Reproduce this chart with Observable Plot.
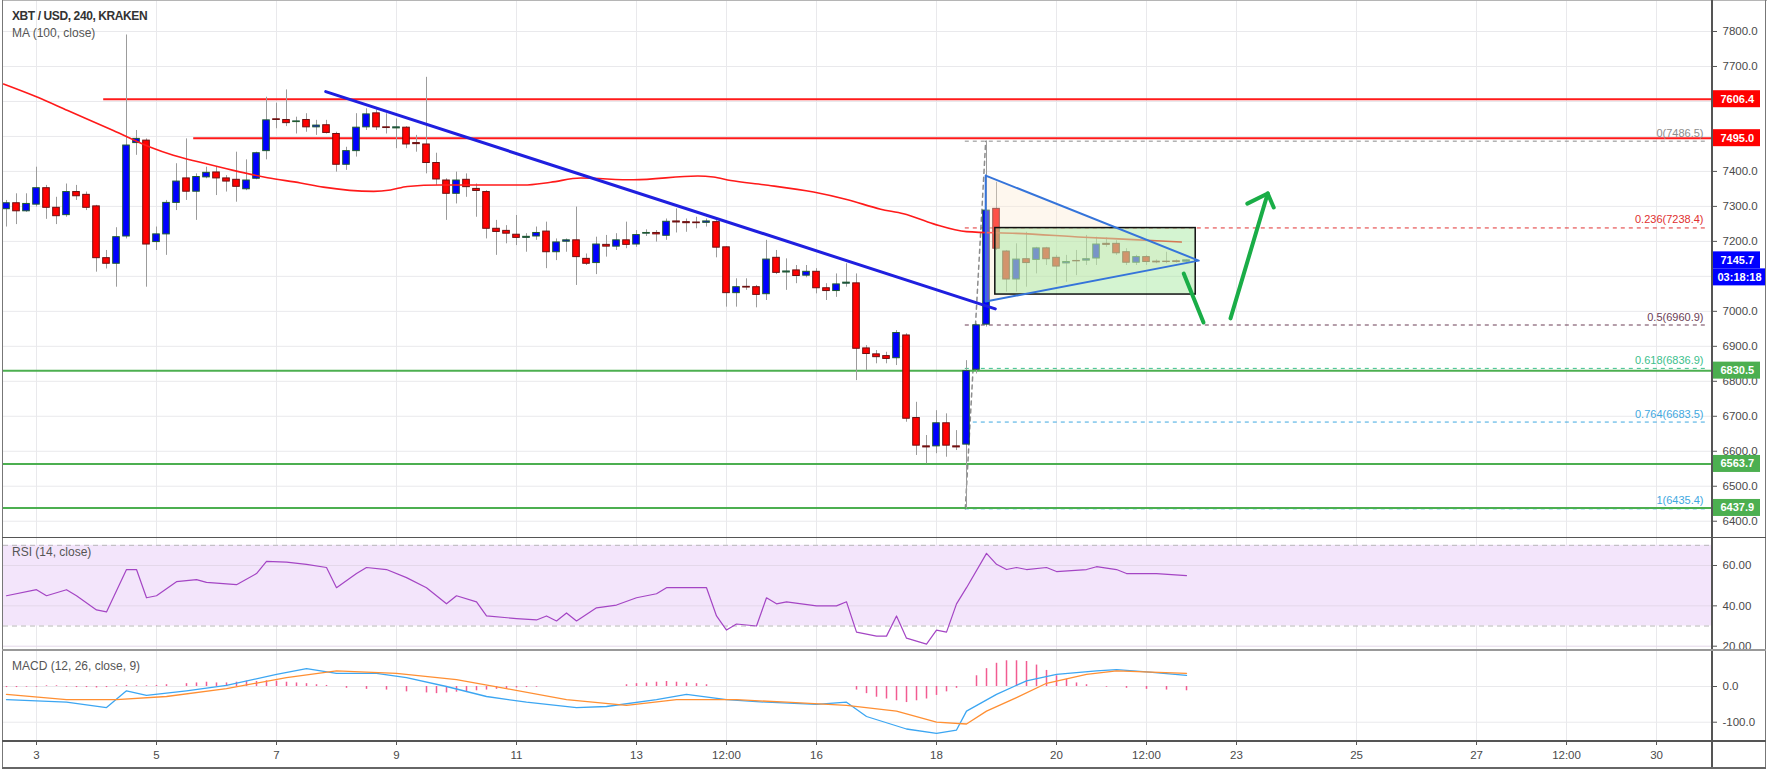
<!DOCTYPE html>
<html><head><meta charset="utf-8">
<script src="https://cdn.jsdelivr.net/npm/d3@7"></script>
<script src="https://cdn.jsdelivr.net/npm/@observablehq/plot@0.6"></script>
<style>
body{margin:0;background:#fff;}
#wrap{position:relative;width:1769px;height:771px;overflow:hidden;background:#fff;font-family:"Liberation Sans",Arial,sans-serif;}
#wrap svg{position:absolute;left:0;}
.ln{position:absolute;}
.lbl{position:absolute;font-size:12px;color:#333;white-space:nowrap;}
</style></head><body><div id="wrap"></div><script>
// ---------- data ----------
const start = 2.5, step = 1/6;           // first candle (day), 4h candles
const opens  = [7292,7309,7286,7305,7352,7296,7275,7341,7333,7300,7152,7136,7214,7481,7488,7198,7220,7310,7380,7342,7383,7397,7380,7376,7349,7379,7458,7549,7547,7541,7547,7526,7532,7507,7419,7458,7526,7566,7526,7523,7525,7481,7477,7424,7374,7336,7376,7350,7341,7236,7230,7219,7210,7214,7228,7169,7199,7203,7150,7138,7190,7185,7203,7191,7222,7224,7216,7257,7255,7254,7253,7255,7183,7052,7070,7069,7049,7153,7111,7117,7102,7113,7066,7058,7079,7080,6894,6877,6872,6866,6931,6695,6614,6614,6680,6614,6619,6833,6962,7293,7171,7091,7149,7147,7180,7153,7137,7144,7145,7151,7193,7193,7169,7139,7155,7142,7142,7143,7142];
const highs  = [7317,7336,7336,7412,7360,7326,7364,7360,7341,7303,7174,7239,7790,7517,7493,7241,7317,7422,7493,7393,7412,7412,7388,7455,7433,7455,7612,7595,7633,7555,7565,7546,7546,7512,7469,7565,7579,7576,7565,7550,7528,7503,7669,7452,7379,7398,7393,7364,7345,7260,7245,7274,7222,7241,7255,7207,7207,7298,7164,7212,7217,7222,7255,7231,7233,7231,7264,7293,7264,7269,7264,7260,7185,7093,7093,7074,7203,7174,7150,7131,7131,7122,7079,7107,7136,7107,6902,6888,6883,6945,6936,6740,6645,6716,6707,6659,6859,6964,7487,7369,7174,7193,7226,7183,7183,7160,7160,7174,7217,7212,7210,7202,7179,7160,7160,7147,7169,7147,7147];
const lows   = [7241,7248,7283,7298,7263,7248,7269,7317,7288,7112,7121,7069,7207,7446,7069,7174,7160,7288,7317,7260,7379,7331,7341,7312,7345,7376,7433,7522,7528,7507,7512,7503,7507,7398,7403,7441,7517,7517,7507,7465,7465,7455,7393,7360,7260,7307,7326,7269,7207,7160,7193,7188,7169,7203,7122,7145,7169,7074,7131,7105,7155,7174,7179,7183,7214,7198,7203,7224,7226,7236,7241,7153,7012,7012,7060,7010,7031,7105,7060,7079,7096,7050,7031,7040,7069,6802,6831,6850,6850,6845,6683,6588,6564,6593,6583,6602,6435,6821,6955,7174,7055,7055,7069,7107,7131,7078,7083,7102,7131,7131,7183,7160,7131,7131,7131,7136,7136,7138,7140];
const closes = [7309,7286,7307,7352,7296,7272,7341,7329,7296,7152,7136,7212,7474,7493,7191,7220,7310,7371,7342,7384,7396,7380,7371,7356,7374,7452,7546,7547,7538,7543,7526,7531,7510,7419,7458,7525,7563,7526,7524,7526,7477,7478,7424,7377,7336,7374,7355,7344,7236,7227,7222,7210,7213,7224,7169,7197,7203,7155,7136,7191,7185,7203,7190,7218,7224,7220,7256,7254,7252,7252,7257,7182,7052,7069,7068,7047,7148,7110,7114,7101,7113,7066,7058,7077,7082,6893,6878,6869,6864,6938,6693,6616,6611,6680,6616,6611,6829,6960,7288,7179,7091,7148,7138,7180,7149,7128,7141,7143,7149,7191,7190,7166,7139,7155,7141,7140,7141,7141,7145.7];

// moving average MA(100) samples: day, value
const maDay = [2.45,3.02,3.52,4.28,4.90,5.28,5.73,6.28,6.85,7.40,7.78,8.62,8.90,9.18,9.73,11.12,11.57,12.07,12.95,14.02,14.28,14.57,15.12,15.95,16.52,17.07,17.45,17.95,18.50,19.33,20.45,21.28,22.08];
const maVal = [7650,7612,7574,7517,7469,7446,7426,7403,7382,7367,7355,7343,7347,7357,7361,7361,7369,7381,7376,7387,7384,7374,7362,7341,7319,7292,7279,7250,7228,7223,7212,7205,7198];

// RSI(14) samples: candle index, value
const rsiIdx = [0,3,4,6,7,9,10,12,13,14,15,17,19,20,23,25,26,28,30,32,33,35,36,38,40,42,44,45,47,48,51,53,54,55,56,57,59,61,63,65,66,68,70,71,72,73,75,76,77,78,81,83,84,85,87,88,89,90,91,92,93,94,95,96,98,99,100,101,102,104,105,108,109,111,112,115,118];
const rsiVal = [45,48,45,48,45,38,37,58,58,44,45,52,53,51.6,50.5,56,62,61.7,60.6,59,49,56,59,58,54,49,41,45,42,35,33.7,33,35,32.5,36.5,32.5,39,40.4,44,46,49,49,49,35,28,31,30,44,41,42,40,40,42,27,25,25,35,24,22.5,21,28,27,41,49,66,60.6,58,59,58,59,57,58,59.4,58,56,56,55];

// MACD(12,26,9) samples: candle index, value
const macdIdx = [0,6,10,12,14,18,22,27,30,33,37,40,44,48,52,57,60,65,68,72,76,81,84,86,90,93,95,96,99,102,105,109,111,114,118];
const macdVal = [-37,-44,-59,-12,-25,-12,3,34,50,37,37,25,0,-28,-44,-59,-56,-37,-22,-37,-44,-50,-44,-84,-119,-131,-122,-69,-22,16,34,44,47,41,31];
const sigIdx  = [0,6,11,16,22,28,33,39,45,50,56,62,67,73,78,84,89,93,96,98,101,104,108,111,118];
const sigVal  = [-22,-37,-37,-28,-6,25,44,37,19,-6,-37,-53,-37,-37,-44,-53,-69,-100,-105,-69,-31,9,34,44,37];
const histIdx = [0,1,2,3,4,5,6,7,8,9,10,11,12,13,14,15,16,18,19,20,21,22,23,24,25,26,27,28,29,30,31,32,34,36,38,40,42,43,44,45,46,47,48,49,50,51,52,53,62,63,64,65,66,67,68,69,70,85,86,87,88,89,90,91,92,93,94,95,97,98,99,100,101,102,103,104,105,106,107,108,110,112,114,116,118];
const histVal = [-3,-3,-2,-2,2,2,-2,-3,-3,-4,-3,2,3,2,2,3,5,8,10,12,10,10,12,15,14,16,15,12,10,8,5,3,-5,-8,-10,-15,-18,-20,-18,-16,-14,-12,-10,-8,-6,-4,-3,-2,5,8,10,12,14,12,10,8,5,-10,-20,-30,-35,-40,-45,-40,-35,-25,-15,-5,30,50,65,72,72,70,60,45,30,20,10,5,-2,-5,-8,-10,-12];

// horizontal levels
const levelVal  = [7606.4, 7495.0, 6830.5, 6563.7, 6437.9];
const levelFrom = [4.12, 5.62, 2.45, 2.45, 2.45];
const levelCol  = ["#ff1a1a","#ff1a1a","#4caf50","#4caf50","#4caf50"];
// fibonacci retracement
const fibRatio = ["0","0.236","0.5","0.618","0.764","1"];
const fibVal   = [7486.5, 7238.4, 6960.9, 6836.9, 6683.5, 6435.4];
const fibCol   = ["#8c8c8c","#e03030","#6b3d55","#3cc08c","#3fa8e0","#3fa8e0"];
const fibFrom  = 18.48;
// drawings
const trendDay = [7.82, 18.98], trendVal = [7628, 7007];
const triDay = [18.82, 22.37, 18.82, 18.82], triVal = [7388, 7145, 7028, 7388];
const boxDay = [18.98, 22.32], boxVal = [7048, 7238];
const arrowA = {day:[22.12, 22.45], val:[7108, 6968]};
const arrowB = {day:[22.90, 23.52], val:[6980, 7337]};
const arrowHead = {day:[23.18, 23.52, 23.62], val:[7308, 7337, 7297]};
// price tags on the axis
const tagVal = [7606.4, 7495.0, 7145.7, 6830.5, 6563.7, 6437.9];
const tagCol = ["#ff0000","#ff0000","#0000ff","#4caf50","#4caf50","#4caf50"];
const countdown = "03:18:18";
// axes
const dayTicks  = [3,5,7,9,11,13,14.5,16,18,20,21.5,23,25,27,28.5,30];
const dayLabels = ["3","5","7","9","11","13","12:00","16","18","20","12:00","23","25","27","12:00","30"];
const priceTicks = [6400,6500,6600,6700,6800,6900,7000,7100,7200,7300,7400,7500,7600,7700,7800];
const priceLabelTicks = [6400,6500,6600,6700,6800,6900,7000,7200,7300,7400,7500,7600,7700,7800]; // 7100 hidden under the countdown tag
const rsiTicks = [20,40,60];
const macdTicks = [0,-100];

// ---------- build ----------
const X0 = 2.45, X1 = 30.933;
const tOf = i => start + i*step;
const candles = opens.map((o,i)=>({t:tOf(i), o, h:highs[i], l:lows[i], c:closes[i]}));
const pairs = (xs, ys) => xs.map((x,i)=>({x, y:ys[i]}));
const idxPairs = (xs, ys) => xs.map((x,i)=>({x:tOf(x), y:ys[i]}));
const PPY = 538/(7888.6-6350.6); // px per price unit in price pane
const PPD = 60; // px per day

const font = '"Liberation Sans", Arial, sans-serif';
const common = {width:1769, marginLeft:3, marginRight:57, x:{domain:[X0,X1], axis:null},
  color:{type:"identity"},
  style:{fontFamily:font, fontSize:"11.5px", color:"#4a4a4a", background:"transparent", overflow:"visible"}};
const grid = "#e9e9ec";
const wrap = document.getElementById("wrap");

const levels = levelVal.map((v,i)=>({v, from:levelFrom[i], to:X1, c:levelCol[i]}));
const fibs = fibVal.map((v,i)=>({v, from:fibFrom, to:X1-0.06, c:fibCol[i], label:`${fibRatio[i]}(${v.toFixed(1)})`}));
const tags = tagVal.map((v,i)=>({v, c:tagCol[i], x1:X1, x2:X1+48/PPD, y1:v-8.5/PPY, y2:v+8.5/PPY}));
const cd = [{x1:X1, x2:X1+54/PPD, y1:7145.7-8.5/PPY-17/PPY, y2:7145.7-8.5/PPY, y:7145.7-17.5/PPY, text:countdown}];
const bw = 3.3/PPD;
const yAx = (ticks, fmt) => Plot.axisY(ticks, {anchor:"right", label:null, tickSize:4, tickPadding:6, tickFormat:fmt, fill:"#4a4a4a", stroke:"#555"});

const price = Plot.plot({...common, height:538, marginTop:0, marginBottom:0,
  y:{domain:[6350.6, 7888.6], axis:null},
  marks:[
    Plot.gridX(dayTicks, {stroke:grid, strokeOpacity:1}),
    Plot.gridY(priceTicks, {stroke:grid, strokeOpacity:1}),
    yAx(priceLabelTicks, d=>d.toFixed(1)),
    Plot.ruleY(fibs, {y:"v", x1:"from", x2:"to", stroke:"c", strokeWidth:1, strokeDasharray:"4,4"}),
    Plot.line(pairs([18.48,18.82],[6435.4,7486.5]), {x:"x", y:"y", stroke:"#8c8c8c", strokeDasharray:"4,4"}),
    Plot.ruleY(levels, {y:"v", x1:"from", x2:"to", stroke:"c", strokeWidth:2}),
    Plot.ruleX(candles, {x:"t", y1:"l", y2:"h", stroke:"#9c9c9c", strokeWidth:1}),
    Plot.rect(candles, {x1:d=>d.t-bw, x2:d=>d.t+bw, y1:"o", y2:"c",
      fill:d=>d.c>=d.o?"#0000ff":"#ff0000", stroke:d=>d.c>=d.o?"#1f5a2e":"#6b1010", strokeWidth:1}),
    Plot.line(pairs(maDay, maVal), {x:"x", y:"y", stroke:"#ff1a1a", strokeWidth:1.6, curve:"monotone-x"}),
    Plot.line(pairs(trendDay, trendVal), {x:"x", y:"y", stroke:"#1f1fdf", strokeWidth:3}),
    Plot.line(pairs(triDay, triVal), {x:"x", y:"y", fill:"#fbe9cf", fillOpacity:0.35, stroke:"none"}),
    Plot.rect([{x1:boxDay[0], x2:boxDay[1], y1:boxVal[0], y2:boxVal[1]}], {x1:"x1", x2:"x2", y1:"y1", y2:"y2", fill:"#9fe69a", fillOpacity:0.45, stroke:"#111", strokeWidth:1.5}),
    Plot.line(pairs(triDay, triVal), {x:"x", y:"y", stroke:"#3574da", strokeWidth:2}),
    Plot.line(pairs(arrowA.day, arrowA.val), {x:"x", y:"y", stroke:"#1aad47", strokeWidth:4, strokeLinecap:"round"}),
    Plot.line(pairs(arrowB.day, arrowB.val), {x:"x", y:"y", stroke:"#1aad47", strokeWidth:4, strokeLinecap:"round"}),
    Plot.line(pairs(arrowHead.day, arrowHead.val), {x:"x", y:"y", stroke:"#1aad47", strokeWidth:4, strokeLinecap:"round", strokeLinejoin:"round"}),
    Plot.text(fibs, {x:X1-0.15, y:"v", text:"label", fill:"c", textAnchor:"end", dy:-8, fontSize:11}),
    Plot.rect(tags, {x1:"x1", x2:"x2", y1:"y1", y2:"y2", fill:"c"}),
    Plot.text(tags, {x:X1+8/PPD, y:"v", text:d=>d.v.toFixed(1), fill:"#fff", textAnchor:"start", fontWeight:"bold", fontSize:11}),
    Plot.rect(cd, {x1:"x1", x2:"x2", y1:"y1", y2:"y2", fill:"#0000ff"}),
    Plot.text(cd, {x:X1+5/PPD, y:"y", text:"text", fill:"#fff", textAnchor:"start", fontWeight:"bold", fontSize:11})
  ]});
price.style.top = "0px";
wrap.appendChild(price);

const rsi = Plot.plot({...common, height:112, marginTop:0, marginBottom:0,
  y:{domain:[17.87, 73.38], axis:null},
  marks:[
    Plot.gridX(dayTicks, {stroke:grid, strokeOpacity:1}),
    Plot.rect([{x1:X0, x2:X1, y1:30, y2:70}], {x1:"x1", x2:"x2", y1:"y1", y2:"y2", fill:"#f3e5fb"}),
    Plot.gridY(rsiTicks, {stroke:"#e4d8ea", strokeOpacity:1}),
    Plot.ruleY([30,70], {stroke:"#b8b8b8", strokeDasharray:"5,4"}),
    yAx(rsiTicks, d=>d.toFixed(2)),
    Plot.line(idxPairs(rsiIdx, rsiVal), {x:"x", y:"y", stroke:"#a445c4", strokeWidth:1.2})
  ]});
rsi.style.top = "538px";
wrap.appendChild(rsi);

const macd = Plot.plot({...common, height:118, marginTop:0, marginBottom:27,
  y:{domain:[-154, 100.8], axis:null},
  marks:[
    Plot.gridX(dayTicks, {stroke:grid, strokeOpacity:1}),
    Plot.gridY(macdTicks, {stroke:grid, strokeOpacity:1}),
    yAx(macdTicks, d=>d.toFixed(1)),
    Plot.ruleX(idxPairs(histIdx, histVal), {x:"x", y1:()=>0, y2:"y", stroke:"#f25c92", strokeWidth:1.5}),
    Plot.line(idxPairs(macdIdx, macdVal), {x:"x", y:"y", stroke:"#3ca6f2", strokeWidth:1.3}),
    Plot.line(idxPairs(sigIdx, sigVal), {x:"x", y:"y", stroke:"#ff8f33", strokeWidth:1.3}),
    Plot.axisX(dayTicks, {anchor:"bottom", label:null, tickSize:4, tickPadding:5, tickFormat:d=>dayLabels[dayTicks.indexOf(d)], fill:"#4a4a4a", stroke:"#555"})
  ]});
macd.style.top = "650px";
wrap.appendChild(macd);

// frame lines and labels
function line(x,y,w,h,c){const d=document.createElement("div");d.className="ln";Object.assign(d.style,{left:x+"px",top:y+"px",width:w+"px",height:h+"px",background:c});wrap.appendChild(d);}
line(2,0,1765,1,"#b5b5b5");
line(2,0,1,768,"#777");
line(1765,0,1,768,"#777");
line(1711,0,1.5,768,"#555");
line(2,537,1764,1.2,"#555");
line(2,649,1764,2,"#999");
line(2,740,1764,1.5,"#555");
line(2,767,1764,1.5,"#666");
function label(t,x,y,extra){const d=document.createElement("div");d.className="lbl";d.textContent=t;Object.assign(d.style,{left:x+"px",top:y+"px"},extra||{});wrap.appendChild(d);}
label("XBT / USD, 240, KRAKEN",12,9,{fontWeight:"bold",letterSpacing:"-0.4px"});
label("MA (100, close)",12,26,{color:"#555"});
label("RSI (14, close)",12,545,{color:"#555"});
label("MACD (12, 26, close, 9)",12,659,{color:"#555"});
</script></body></html>
